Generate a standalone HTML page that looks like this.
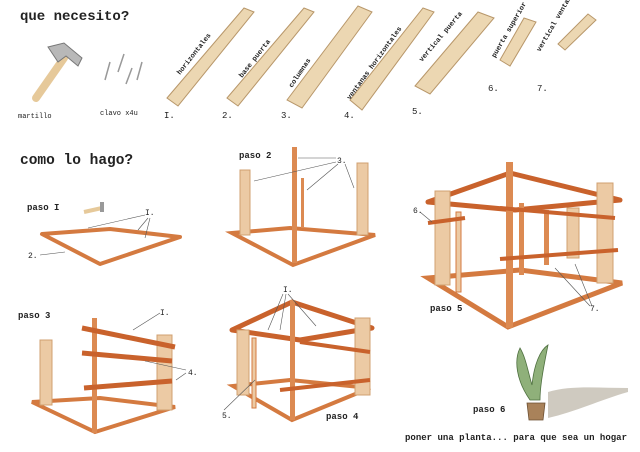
<!DOCTYPE html>
<html><head><meta charset="utf-8"><style>
html,body{margin:0;padding:0;background:#fff}
svg{display:block}
text{font-family:"Liberation Mono",monospace;fill:#222}
.t{font-weight:bold}
</style></head><body>
<svg width="640" height="452" viewBox="0 0 640 452" xmlns="http://www.w3.org/2000/svg">
<!-- titles -->
<text x="20" y="20" font-size="14" class="t">que necesito?</text>
<text x="20" y="164" font-size="14.5" class="t">como lo hago?</text>

<!-- hammer -->
<line x1="36" y1="98" x2="64" y2="58" stroke="#e6c99a" stroke-width="8" stroke-linecap="round"/>
<path d="M48 47 L64 43 L82 58 L78 66 L66 56 L58 62 Z" fill="#b8b8b8" stroke="#777" stroke-width="1"/>
<!-- nails -->
<g stroke="#999" stroke-width="1.5">
<line x1="110" y1="62" x2="105" y2="80"/><line x1="124" y1="54" x2="118" y2="72"/>
<line x1="132" y1="68" x2="126" y2="84"/><line x1="142" y1="62" x2="137" y2="80"/>
</g>
<text x="18" y="118" font-size="7">martillo</text>
<text x="100" y="115" font-size="7">clavo x4u</text>

<!-- planks -->
<g fill="#ecd7b2" stroke="#b8976a" stroke-width="1">
<polygon points="167,98 244,8 254,12 178,106"/>
<polygon points="227,98 304,8 314,12 238,106"/>
<polygon points="287,100 358,6 372,12 302,108"/>
<polygon points="350,100 423,8 434,12 362,110"/>
<polygon points="415,86 478,12 494,18 430,94"/>
<polygon points="500,60 524,18 536,22 510,66"/>
<polygon points="558,44 588,14 596,20 565,50"/>
</g>
<g font-size="7" class="t">
<text transform="translate(180,75) rotate(-52)">horizontales</text>
<text transform="translate(242,78) rotate(-52)">base puerta</text>
<text transform="translate(292,88) rotate(-56)">columnas</text>
<text transform="translate(350,100) rotate(-54)">ventanas horizontales</text>
<text transform="translate(422,62) rotate(-50)">vertical puerta</text>
<text transform="translate(495,58) rotate(-60)">puerta superior</text>
<text transform="translate(540,52) rotate(-60)">vertical ventana</text>
</g>
<g font-size="9">
<text x="164" y="118">I.</text><text x="222" y="118">2.</text><text x="281" y="118">3.</text>
<text x="344" y="118">4.</text><text x="412" y="114">5.</text><text x="488" y="91">6.</text><text x="537" y="91">7.</text>
</g>

<!-- paso 1 -->
<text x="27" y="210" font-size="9" class="t">paso I</text>
<path d="M84 212 L102 208" stroke="#e6c99a" stroke-width="4"/>
<rect x="100" y="202" width="4" height="10" fill="#999"/>
<g stroke="#d47a40" stroke-width="4" fill="none" stroke-linejoin="round">
<polygon points="42,234 110,229 180,237 100,264"/>
</g>
<g font-size="8"><text x="145" y="215">I.</text><text x="28" y="258">2.</text></g>
<g stroke="#555" stroke-width="0.6"><line x1="145" y1="215" x2="88" y2="228"/><line x1="148" y1="218" x2="138" y2="230"/><line x1="150" y1="218" x2="145" y2="238"/><line x1="40" y1="255" x2="65" y2="252"/></g>

<!-- paso 2 -->
<text x="239" y="158" font-size="9" class="t">paso 2</text>
<g stroke="#d47a40" stroke-width="4" fill="none"><polygon points="232,233 290,228 375,235 293,265"/></g>
<rect x="240" y="170" width="10" height="65" fill="#eccaa4" stroke="#d0a070"/>
<rect x="357" y="163" width="11" height="72" fill="#eccaa4" stroke="#d0a070"/>
<rect x="292" y="147" width="5" height="116" fill="#dc8a52"/>
<rect x="301" y="178" width="3" height="50" fill="#dc8a52"/>
<text x="337" y="163" font-size="8">3.</text>
<g stroke="#555" stroke-width="0.6"><line x1="336" y1="158" x2="298" y2="158"/><line x1="336" y1="162" x2="254" y2="181"/><line x1="338" y1="164" x2="307" y2="190"/><line x1="345" y1="164" x2="354" y2="188"/></g>

<!-- paso 3 -->
<text x="18" y="318" font-size="9" class="t">paso 3</text>
<g stroke="#d47a40" stroke-width="4" fill="none"><polygon points="32,402 100,398 175,407 95,432"/></g>
<rect x="40" y="340" width="12" height="65" fill="#eccaa4" stroke="#d0a070"/>
<rect x="157" y="335" width="15" height="75" fill="#eccaa4" stroke="#d0a070"/>
<rect x="92" y="318" width="5" height="115" fill="#dc8a52"/>
<g stroke="#c9622c" stroke-width="5"><line x1="82" y1="328" x2="175" y2="347"/><line x1="82" y1="353" x2="172" y2="361"/><line x1="84" y1="388" x2="172" y2="381"/></g>
<g font-size="8"><text x="160" y="315">I.</text><text x="188" y="375">4.</text></g>
<g stroke="#555" stroke-width="0.6"><line x1="160" y1="313" x2="133" y2="330"/><line x1="186" y1="370" x2="145" y2="361"/><line x1="186" y1="373" x2="176" y2="380"/></g>

<!-- paso 4 -->
<g stroke="#c9622c" stroke-width="5" fill="none" stroke-linejoin="round"><polygon points="232,330 292,302 372,328 300,340"/></g>
<g stroke="#d47a40" stroke-width="4" fill="none"><polygon points="233,386 290,380 370,388 292,420"/></g>
<rect x="237" y="330" width="12" height="65" fill="#eccaa4" stroke="#d0a070"/>
<rect x="355" y="318" width="15" height="77" fill="#eccaa4" stroke="#d0a070"/>
<rect x="290" y="300" width="5" height="120" fill="#dc8a52"/>
<rect x="252" y="338" width="4" height="70" fill="#eccaa4" stroke="#d47a40"/>
<line x1="280" y1="390" x2="370" y2="380" stroke="#c9622c" stroke-width="4"/>
<line x1="300" y1="342" x2="370" y2="352" stroke="#c9622c" stroke-width="4"/>
<text x="283" y="292" font-size="8">I.</text>
<text x="222" y="418" font-size="8">5.</text>
<text x="326" y="419" font-size="9" class="t">paso 4</text>
<g stroke="#555" stroke-width="0.6"><line x1="283" y1="294" x2="268" y2="330"/><line x1="286" y1="294" x2="280" y2="330"/><line x1="288" y1="294" x2="316" y2="326"/><line x1="224" y1="410" x2="255" y2="380"/></g>

<!-- paso 5 -->
<g stroke="#c9622c" stroke-width="5" fill="none" stroke-linejoin="round"><polygon points="428,202 510,173 620,200 515,210"/></g>
<g stroke="#d47a40" stroke-width="5" fill="none"><polygon points="428,278 520,270 622,283 508,327"/></g>
<rect x="435" y="191" width="15" height="94" fill="#eccaa4" stroke="#d0a070"/>
<rect x="597" y="183" width="16" height="100" fill="#eccaa4" stroke="#d0a070"/>
<rect x="567" y="208" width="12" height="50" fill="#eccaa4" stroke="#d0a070"/>
<rect x="506" y="162" width="7" height="166" fill="#dc8a52"/>
<rect x="456" y="212" width="5" height="80" fill="#eccaa4" stroke="#d47a40"/>
<rect x="519" y="203" width="5" height="72" fill="#dc8a52"/>
<rect x="544" y="210" width="5" height="55" fill="#dc8a52"/>
<g stroke="#c9622c" stroke-width="4"><line x1="428" y1="223" x2="465" y2="218"/><line x1="500" y1="259" x2="618" y2="250"/><line x1="500" y1="208" x2="615" y2="218"/></g>
<text x="413" y="213" font-size="8">6.</text>
<text x="590" y="311" font-size="8">7.</text>
<text x="430" y="311" font-size="9" class="t">paso 5</text>
<g stroke="#555" stroke-width="0.6"><line x1="420" y1="212" x2="432" y2="222"/><line x1="590" y1="306" x2="555" y2="268"/><line x1="592" y1="306" x2="575" y2="264"/></g>

<!-- paso 6 plant -->
<path d="M548 392 C570 385 600 388 628 388 L628 392 C600 400 575 412 548 418 Z" fill="#cfcac0"/>
<path d="M530 400 C516 380 514 360 520 348 C526 358 528 372 532 385 C534 365 540 350 548 345 C544 365 540 385 540 400 Z" fill="#8fb07a" stroke="#4f7040" stroke-width="0.8"/>
<polygon points="527,403 545,403 543,420 529,420" fill="#a9825a" stroke="#6d5033" stroke-width="0.8"/>
<text x="473" y="412" font-size="9" class="t">paso 6</text>
<text x="405" y="440" font-size="9" class="t" textLength="222" lengthAdjust="spacingAndGlyphs">poner una planta... para que sea un hogar</text>
</svg>
</body></html>
